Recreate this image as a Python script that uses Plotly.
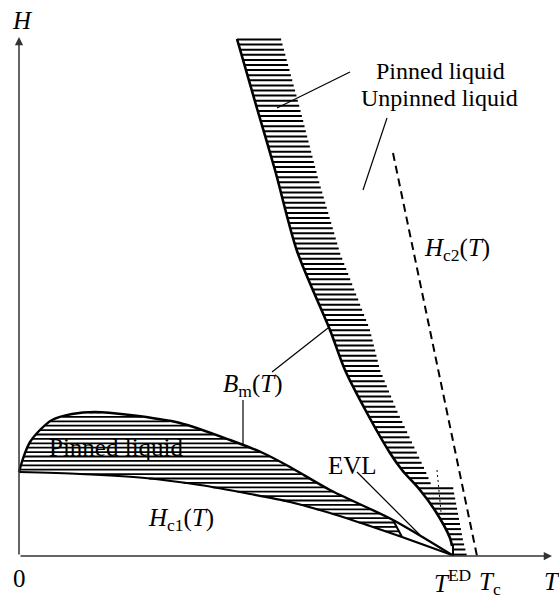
import plotly.graph_objects as go

# ---- data (T and H in arbitrary units; Tc = 4.58) ----
# melting line B_m(T), upper (high-field) branch
bm_up_T = [2.18, 2.37, 2.56, 2.78, 3.11, 3.26, 3.48, 3.71, 3.83, 4.01, 4.17, 4.31, 4.33, 4.34, 4.34]
bm_up_H = [5.17, 4.51, 3.86, 3.05, 2.26, 1.86, 1.43, 1.03, 0.86, 0.66, 0.44, 0.18, 0.10, 0.10, 0.0]
# right (ragged) edge of the pinned-liquid band above B_m
band_edge_T = [4.48, 4.44, 4.34, 4.13, 4.12, 4.06, 3.98, 3.79, 3.61, 3.51, 3.21, 2.99, 2.80, 2.62]
band_edge_H = [0.0, 0.16, 0.69, 0.69, 0.72, 0.86, 1.03, 1.43, 1.86, 2.26, 3.03, 3.78, 4.51, 5.17]
# melting line B_m(T), lower (low-field) branch
bm_low_T = [0.0, 0.02, 0.06, 0.11, 0.19, 0.33, 0.53, 0.76, 1.11, 1.61, 2.11, 2.44, 2.71, 3.11, 3.74, 4.33]
bm_low_H = [0.84, 0.91, 1.03, 1.14, 1.24, 1.36, 1.42, 1.44, 1.41, 1.33, 1.16, 1.03, 0.89, 0.66, 0.36, 0.01]
# lower critical field H_c1(T)
hc1_T = [0.0, 0.61, 1.26, 1.81, 2.31, 2.71, 3.11, 3.51, 3.83, 4.33]
hc1_H = [0.84, 0.82, 0.78, 0.71, 0.62, 0.54, 0.43, 0.30, 0.19, 0.01]
# upper critical field H_c2(T)
hc2_T = [3.74, 4.58]
hc2_H = [4.03, 0.0]
# end of the hatched low-field pinned liquid (EVL boundary)
evl_cut_T = [3.74, 3.83]
evl_cut_H = [0.36, 0.19]
T_ED_marker_T = [4.18, 4.22]
T_ED_marker_H = [0.86, 0.44]

# labels: (text, T, H, xanchor, size)
labels = [
    ("<i>H</i>", 0.03, 5.36, "center", 25),
    ("0", 0.0, -0.22, "center", 25),
    ("<i>T</i><sup>ED</sup>", 4.13, -0.25, "left", 25),
    ("<i>T</i><sub>c</sub>", 4.58, -0.27, "left", 25),
    ("<i>T</i>", 5.23, -0.25, "left", 25),
    ("Pinned liquid", 4.21, 4.855, "center", 24),
    ("Unpinned liquid", 4.20, 4.58, "center", 24),
    ("<i>H</i><sub>c2</sub>(<i>T</i>)", 4.03, 3.07, "left", 25),
    ("<i>B</i><sub>m</sub>(<i>T</i>)", 2.02, 1.71, "left", 25),
    ("<i>H</i><sub>c1</sub>(<i>T</i>)", 1.27, 0.37, "left", 25),
    ("EVL", 3.07, 0.91, "left", 25),
]
inner_label = ("Pinned liquid", 0.30, 1.06)
# pointer lines: (T0, H0, T1, H1)
pointers = [
    (3.31, 4.84, 2.58, 4.48),
    (3.68, 4.38, 3.44, 3.66),
    (2.24, 1.56, 2.24, 1.11),
    (2.53, 1.84, 3.09, 2.28),
    (3.38, 0.84, 4.01, 0.21),
]

FONT = "Liberation Serif"


def hatch(xs, ys, step, top):
    """Horizontal hatch segments clipped to polygon (xs, ys)."""
    n = len(xs)
    sx, sy = [], []
    h = top
    lo = min(ys)
    while h > lo:
        cuts = []
        for i in range(n):
            x1, y1 = xs[i], ys[i]
            x2, y2 = xs[(i + 1) % n], ys[(i + 1) % n]
            if (y1 <= h < y2) or (y2 <= h < y1):
                cuts.append(x1 + (h - y1) * (x2 - x1) / (y2 - y1))
        cuts.sort()
        for j in range(0, len(cuts) - 1, 2):
            sx += [cuts[j], cuts[j + 1], None]
            sy += [h, h, None]
        h -= step
    return sx, sy


fig = go.Figure()


def line(x, y, w=2.5, dash="solid", shape="linear"):
    fig.add_trace(go.Scatter(x=x, y=y, mode="lines",
                             line=dict(color="black", width=w, dash=dash, shape=shape,
                                       smoothing=0.8),
                             hoverinfo="skip", showlegend=False))


# label that lies under the hatching
fig.add_trace(go.Scatter(x=[inner_label[1]], y=[inner_label[2]], mode="text",
                         text=[inner_label[0]], textposition="middle right",
                         textfont=dict(family=FONT, size=25, color="black"),
                         hoverinfo="skip", showlegend=False))

# hatched upper band
px = bm_up_T + band_edge_T
py = bm_up_H + band_edge_H
hx, hy = hatch(px, py, 0.051, 5.165)
line(hx, hy, 2.0)

# hatched lower region
n_cut = bm_low_T.index(3.74)
k_cut = hc1_T.index(3.83)
lx = bm_low_T[:n_cut + 1] + hc1_T[:k_cut + 1][::-1]
ly = bm_low_H[:n_cut + 1] + hc1_H[:k_cut + 1][::-1]
hx, hy = hatch(lx, ly, 0.044, 1.435)
line(hx, hy, 1.8)

line(bm_up_T[:13], bm_up_H[:13], 2.6, shape="spline")
line(bm_up_T[12:], bm_up_H[12:], 2.0)
line(bm_low_T, bm_low_H, 2.4, shape="spline")
line(hc1_T, hc1_H, 2.2, shape="spline")
line(evl_cut_T, evl_cut_H, 2.0)
line(hc2_T, hc2_H, 2.0, dash="8px,5px")
line(T_ED_marker_T, T_ED_marker_H, 1.0, dash="2px,3px")
for (a, b, c, d) in pointers:
    line([a, c], [b, d], 1.2)

ann = []
# axes arrows
ann.append(dict(x=5.33, y=0, ax=0, ay=0, xref="x", yref="y", axref="x", ayref="y",
                showarrow=True, arrowhead=2, arrowsize=1.1, arrowwidth=1.5,
                arrowcolor="#333", text=""))
ann.append(dict(x=0, y=5.19, ax=0, ay=0, xref="x", yref="y", axref="x", ayref="y",
                showarrow=True, arrowhead=2, arrowsize=1.1, arrowwidth=1.5,
                arrowcolor="#333", text=""))
for (t, x, y, xa, s) in labels:
    ann.append(dict(text=t, x=x, y=y, xref="x", yref="y", xanchor=xa, yanchor="middle",
                    showarrow=False, font=dict(family=FONT, size=s, color="black")))

fig.update_layout(
    width=559, height=598,
    margin=dict(l=0, r=0, t=0, b=0),
    paper_bgcolor="white", plot_bgcolor="white",
    xaxis=dict(range=[-0.19, 5.40], visible=False, fixedrange=True),
    yaxis=dict(range=[-0.42, 5.56], visible=False, fixedrange=True),
    annotations=ann,
    showlegend=False,
)
fig.write_html("out.html")
